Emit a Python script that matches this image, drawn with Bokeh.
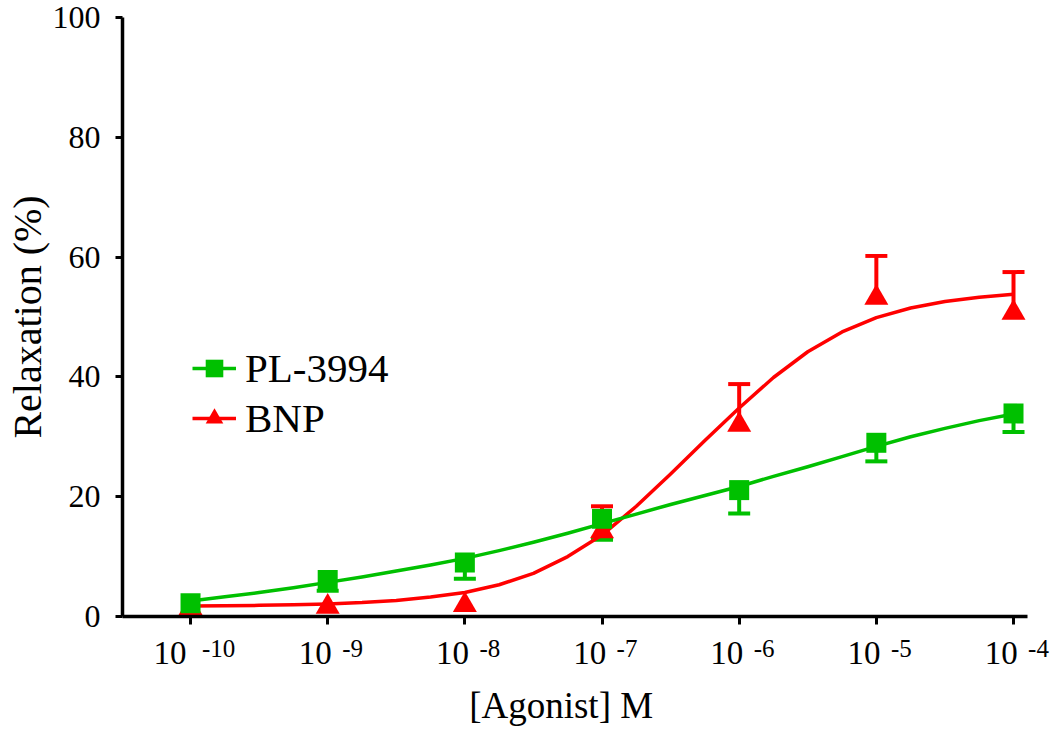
from bokeh.plotting import figure
from bokeh.models import (ColumnDataSource, Range1d, FixedTicker, Whisker, TeeHead,
                          Legend, LegendItem, LinearAxis)
from bokeh.embed import file_html
from bokeh.resources import INLINE

# ---------------- data ----------------
log_conc = [-10, -9, -8, -7, -6, -5, -4]          # log10 [Agonist] (M)
tick_base = "10"
tick_exponents = ["-10", "-9", "-8", "-7", "-6", "-5", "-4"]
y_ticks = [0, 20, 40, 60, 80, 100]

pl_mean = [2.2, 6.1, 9.0, 16.3, 21.1, 29.0, 33.9]
pl_sem = [0.0, 1.8, 2.7, 3.5, 3.9, 3.1, 3.1]
bnp_mean = [1.4, 1.6, 1.9, 14.2, 32.0, 53.2, 50.7]
bnp_sem = [0.0, 0.0, 0.0, 4.2, 6.8, 7.0, 6.8]

curve_x = [-10.0, -9.75, -9.5, -9.25, -9.0, -8.75, -8.5, -8.25, -8.0, -7.75, -7.5,
           -7.25, -7.0, -6.75, -6.5, -6.25, -6.0, -5.75, -5.5, -5.25, -5.0, -4.75,
           -4.5, -4.25, -4.0]
pl_curve = [2.6, 3.3, 4.0, 4.8, 5.7, 6.6, 7.6, 8.6, 9.7, 11.0, 12.4, 13.9, 15.5,
            17.1, 18.7, 20.2, 21.7, 23.4, 25.0, 26.7, 28.4, 30.0, 31.4, 32.7, 33.8]
bnp_curve = [1.76, 1.80, 1.86, 1.95, 2.10, 2.33, 2.69, 3.25, 4.0, 5.3, 7.2, 10.0,
             13.6, 18.4, 23.8, 29.4, 34.8, 39.9, 44.2, 47.5, 49.9, 51.5, 52.6,
             53.3, 53.8]

GREEN = "#00C000"
RED = "#FF0000"
FONT = "Liberation Serif"
EM, EN, QU = "\u2003", "\u2002", "\u2005"

X_LO, X_HI = -10.496, -3.898

p = figure(width=1050, height=731, x_range=Range1d(X_LO, X_HI), y_range=Range1d(0, 100),
           output_backend="svg", toolbar_location=None,
           min_border_left=122, min_border_right=23, min_border_top=17,
           min_border_bottom=115)
p.outline_line_color = None
p.grid.visible = False
p.background_fill_color = "white"
p.border_fill_color = "white"

# ---- y axis ----
ya = p.yaxis[0]
ya.ticker = FixedTicker(ticks=y_ticks, minor_ticks=[])
ya.axis_line_width = 3.5
ya.major_tick_line_width = 3
ya.major_tick_in = 0
ya.major_tick_out = 7
ya.minor_tick_in = 0
ya.minor_tick_out = 0
ya.major_label_standoff = 15
ya.major_label_text_font = FONT
ya.major_label_text_font_size = "32px"
ya.major_label_text_color = "black"
ya.axis_label = "Relaxation (%)"
ya.axis_label_text_font = FONT
ya.axis_label_text_font_size = "40px"
ya.axis_label_text_font_style = "normal"
ya.axis_label_text_color = "black"
ya.axis_label_standoff = 0

# ---- x axis: line, ticks and the exponents ----
xa = p.xaxis[0]
xa.ticker = FixedTicker(ticks=log_conc, minor_ticks=[])
xa.axis_line_width = 3.5
xa.major_tick_line_width = 3
xa.major_tick_in = 0
xa.major_tick_out = 8
xa.minor_tick_in = 0
xa.minor_tick_out = 0
xa.major_label_standoff = 10
xa.major_label_text_font = FONT
xa.major_label_text_font_size = "25px"
xa.major_label_text_color = "black"
xa.major_label_overrides = {
    x: (EM + EM + QU + e if len(e) > 2 else EM + EM + e)
    for x, e in zip(log_conc, tick_exponents)}

# ---- second x axis: the "10" bases, pulled up beside the exponents, and the title ----
xb = LinearAxis(ticker=FixedTicker(ticks=log_conc, minor_ticks=[]))
xb.axis_line_color = None
xb.major_tick_line_color = None
xb.major_tick_in = 0
xb.major_tick_out = 0
xb.minor_tick_in = 0
xb.minor_tick_out = 0
xb.major_label_standoff = -30
xb.major_label_text_font = FONT
xb.major_label_text_font_size = "33px"
xb.major_label_text_color = "black"
xb.major_label_overrides = {
    x: (tick_base + EM + QU if len(e) > 2 else tick_base + EN + QU)
    for x, e in zip(log_conc, tick_exponents)}
xb.axis_label = "[Agonist] M" + EN + QU
xb.axis_label_text_font = FONT
xb.axis_label_text_font_size = "37px"
xb.axis_label_text_font_style = "normal"
xb.axis_label_text_color = "black"
xb.axis_label_standoff = 11
p.add_layout(xb, "below")

# ---- error bars ----
def whisker_source(mean, sem, up):
    xs, lo, hi = [], [], []
    for xv, m, s in zip(log_conc, mean, sem):
        if s > 0:
            xs.append(xv)
            if up:
                lo.append(m); hi.append(m + s)
            else:
                lo.append(m - s); hi.append(m)
    return ColumnDataSource(dict(x=xs, lower=lo, upper=hi))

bnp_err = Whisker(source=whisker_source(bnp_mean, bnp_sem, True), base="x",
                  lower="lower", upper="upper", dimension="height",
                  line_color=RED, line_width=4, lower_head=None,
                  upper_head=TeeHead(size=22, line_width=4, line_color=RED))
pl_err = Whisker(source=whisker_source(pl_mean, pl_sem, False), base="x",
                 lower="lower", upper="upper", dimension="height",
                 line_color=GREEN, line_width=4, upper_head=None,
                 lower_head=TeeHead(size=22, line_width=4, line_color=GREEN))
p.add_layout(bnp_err)
p.add_layout(pl_err)

pts = ColumnDataSource(dict(x=log_conc, pl=pl_mean, bnp=bnp_mean))
crv = ColumnDataSource(dict(x=curve_x, pl=pl_curve, bnp=bnp_curve))

rl = p.line("x", "bnp", source=crv, line_color=RED, line_width=3.5, line_join="round")
rs = p.scatter("x", "bnp", source=pts, marker="triangle", size=24,
               fill_color=RED, line_color=RED, line_width=0)
gl = p.line("x", "pl", source=crv, line_color=GREEN, line_width=3.5, line_join="round")
gs = p.scatter("x", "pl", source=pts, marker="square", size=20,
               fill_color=GREEN, line_color=GREEN, line_width=0)

legend = Legend(items=[LegendItem(label="PL-3994", renderers=[gl, gs]),
                       LegendItem(label="BNP", renderers=[rl, rs])],
                location=(70, 173), orientation="vertical",
                glyph_width=44, glyph_height=50, label_height=50,
                label_standoff=9, spacing=0, padding=0, margin=0,
                label_text_font=FONT, label_text_font_size="41px",
                label_text_color="black",
                border_line_color=None, background_fill_alpha=0)
p.add_layout(legend)

open("out.html", "w").write(file_html(p, INLINE))
